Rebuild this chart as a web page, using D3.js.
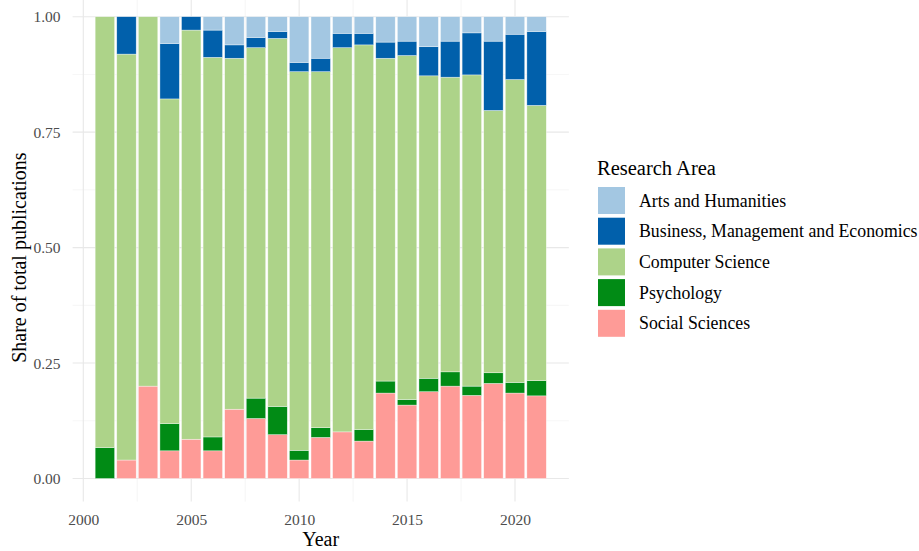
<!DOCTYPE html>
<html>
<head>
<meta charset="utf-8">
<script src="https://cdn.jsdelivr.net/npm/d3@7"></script>
<style>
  html, body { margin: 0; padding: 0; background: #fff; }
  svg { display: block; }
  svg text { font-family: "Liberation Serif", "Times New Roman", serif; }
</style>
</head>
<body>
<svg id="chart" width="919" height="551"></svg>
<script>
const years = [2001,2002,2003,2004,2005,2006,2007,2008,2009,2010,2011,2012,2013,2014,2015,2016,2017,2018,2019,2020,2021];
const socialSciences = [0,0.040,0.200,0.060,0.085,0.060,0.150,0.130,0.095,0.040,0.089,0.101,0.081,0.185,0.159,0.188,0.200,0.180,0.206,0.185,0.179];
const psychology     = [0.067,0,0,0.059,0,0.030,0,0.044,0.061,0.021,0.021,0,0.025,0.026,0.012,0.029,0.031,0.020,0.023,0.023,0.033];
const computerScience= [0.933,0.879,0.800,0.703,0.886,0.822,0.760,0.759,0.797,0.820,0.771,0.832,0.833,0.699,0.745,0.655,0.638,0.674,0.568,0.656,0.596];
const businessMgmtEcon=[0,0.081,0,0.120,0.029,0.059,0.029,0.022,0.015,0.020,0.029,0.031,0.025,0.035,0.031,0.063,0.078,0.091,0.150,0.098,0.160];
const artsHumanities = [0,0,0,0.058,0,0.029,0.061,0.045,0.032,0.099,0.090,0.036,0.036,0.055,0.053,0.065,0.053,0.035,0.053,0.038,0.032];

const areaNames = ["Arts and Humanities","Business, Management and Economics","Computer Science","Psychology","Social Sciences"];
const areaColors = ["#a3c7e2","#0160ab","#add389","#018b15","#fe9b97"];
const xTicks = [2000,2005,2010,2015,2020];
const yTicks = [0,0.25,0.5,0.75,1];
const yTickLabels = ["0.00","0.25","0.50","0.75","1.00"];

const seriesValues = {
  "Arts and Humanities": artsHumanities,
  "Business, Management and Economics": businessMgmtEcon,
  "Computer Science": computerScience,
  "Psychology": psychology,
  "Social Sciences": socialSciences
};
const table = years.map((y, i) => {
  const row = { year: y };
  areaNames.forEach(n => row[n] = seriesValues[n][i]);
  return row;
});

const svg = d3.select("#chart");
const color = d3.scaleOrdinal().domain(areaNames).range(areaColors);

const perYear = (515 - 83.3) / 20;
const x = d3.scaleLinear().domain([1999.505, 2022.495]).range([83.3 - 0.495 * perYear, 83.3 + 22.495 * perYear]);
const y = d3.scaleLinear().domain([-0.05, 1.05]).range([478.5 + 0.05 * 461.8, 16.7 - 0.05 * 461.8]);
const [px0, px1] = x.range();
const [py0, py1] = y.range();

const g = svg.append("g");

// minor grid
const minorX = d3.range(1997.5, 2023, 5);
const minorY = [0.125, 0.375, 0.625, 0.875];
g.selectAll(".mgx").data(minorX.filter(v => x(v) >= px0 && x(v) <= px1)).join("line")
  .attr("x1", d => x(d)).attr("x2", d => x(d)).attr("y1", py0).attr("y2", Math.max(py1, 0))
  .attr("stroke", "#f0f0f0").attr("stroke-width", 0.6);
g.selectAll(".mgy").data(minorY).join("line")
  .attr("x1", px0).attr("x2", px1).attr("y1", d => y(d)).attr("y2", d => y(d))
  .attr("stroke", "#f0f0f0").attr("stroke-width", 0.6);
// major grid
g.selectAll(".gx").data(xTicks).join("line")
  .attr("x1", d => x(d)).attr("x2", d => x(d)).attr("y1", py0).attr("y2", Math.max(py1, 0))
  .attr("stroke", "#e8e8e8").attr("stroke-width", 1.1);
g.selectAll(".gy").data(yTicks).join("line")
  .attr("x1", px0).attr("x2", px1).attr("y1", d => y(d)).attr("y2", d => y(d))
  .attr("stroke", "#e8e8e8").attr("stroke-width", 1.1);

// stacked bars
const stackKeys = areaNames.slice().reverse(); // Social at bottom
const stacked = d3.stack().keys(stackKeys)(table);
const bw = perYear * 0.9;
g.selectAll(".layer").data(stacked).join("g")
  .attr("fill", d => color(d.key))
  .selectAll("rect").data(d => d.filter(s => s[1] - s[0] > 0)).join("rect")
  .attr("x", d => x(d.data.year) - bw / 2)
  .attr("width", bw)
  .attr("y", d => y(d[1]))
  .attr("height", d => y(d[0]) - y(d[1]))
  .attr("stroke", "rgba(255,255,255,0.6)")
  .attr("stroke-width", 0.6);

// axes (labels only)
const xAxis = svg.append("g").attr("transform", `translate(0,${py0})`)
  .call(d3.axisBottom(x).tickValues(xTicks).tickFormat(d3.format("d")).tickSize(0).tickPadding(12));
xAxis.select(".domain").remove();
xAxis.attr("font-family", null);
xAxis.selectAll("text").attr("font-size", 15.5).attr("fill", "#4d4d4d");

const yAxis = svg.append("g").attr("transform", `translate(${px0},0)`)
  .call(d3.axisLeft(y).tickValues(yTicks).tickFormat((d, i) => yTickLabels[i]).tickSize(0).tickPadding(12));
yAxis.select(".domain").remove();
yAxis.attr("font-family", null);
yAxis.selectAll("text").attr("font-size", 15.5).attr("fill", "#4d4d4d");

// axis titles
svg.append("text").attr("x", (px0 + px1) / 2).attr("y", 546)
  .attr("text-anchor", "middle").attr("font-size", 20).attr("fill", "#000").text("Year");
svg.append("text").attr("transform", `translate(26,${(py0 + py1) / 2 + 10}) rotate(-90)`)
  .attr("text-anchor", "middle").attr("font-size", 20).attr("fill", "#000").text("Share of total publications");

// legend
const leg = svg.append("g").attr("transform", "translate(598,0)");
leg.append("text").attr("x", -1).attr("y", 175).attr("font-size", 20.5).attr("fill", "#000").text("Research Area");
const items = leg.selectAll(".li").data(areaNames).join("g")
  .attr("transform", (d, i) => `translate(0,${187 + i * 30.7})`);
items.append("rect").attr("width", 27).attr("height", 27).attr("fill", d => color(d));
items.append("text").attr("x", 41).attr("y", 19.5).attr("font-size", 17.8).attr("fill", "#000").text(d => d);
</script>
</body>
</html>
